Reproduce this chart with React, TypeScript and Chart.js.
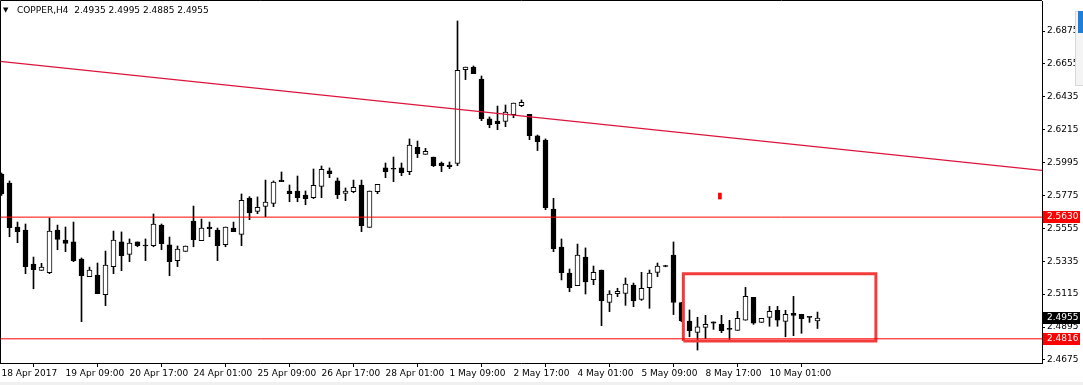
import React, { useEffect, useRef } from 'react';
import { Chart, registerables } from 'chart.js';

Chart.register(...registerables);

const symbolName = 'COPPER,H4';

const openP = [
  2.5918, 2.5858, 2.5564, 2.5544, 2.5316, 2.5274, 2.5258, 2.5544, 2.5477, 2.5464,
  2.5350, 2.5232, 2.5243, 2.5111, 2.5299, 2.5464, 2.5381, 2.5464, 2.5437, 2.5439,
  2.5577, 2.5444, 2.5339, 2.5401, 2.5604, 2.5473, 2.5564, 2.5544, 2.5446, 2.5557,
  2.5515, 2.5758, 2.5669, 2.5702, 2.5722, 2.5878, 2.5805, 2.5805, 2.5778, 2.5760,
  2.5836, 2.5939, 2.5872, 2.5789, 2.5800, 2.5845, 2.5562, 2.5800, 2.5959, 2.5951,
  2.5959, 2.5934, 2.6097, 2.6050, 2.6032, 2.5992, 2.5979, 2.5990, 2.6616, 2.6634,
  2.6554, 2.6287, 2.6273, 2.6271, 2.6315, 2.6376, 2.6318, 2.6173, 2.6146, 2.5684,
  2.5430, 2.5256, 2.5172, 2.5363, 2.5212, 2.5276, 2.5060, 2.5118, 2.5120, 2.5176,
  2.5080, 2.5158, 2.5261, 2.5303, 2.5377, 2.5058, 2.4935, 2.4859, 2.4893, 2.4929,
  2.4913, 2.4879, 2.4873, 2.4940, 2.5093, 2.4926, 2.4960, 2.5007, 2.4933, 2.4987,
  2.4980, 2.4962, 2.4935,
];

const highP = [
  2.5925, 2.5872, 2.5597, 2.5584, 2.5363, 2.5321, 2.5624, 2.5577, 2.5564, 2.5597,
  2.5357, 2.5296, 2.5323, 2.5403, 2.5537, 2.5531, 2.5484, 2.5464, 2.5484, 2.5651,
  2.5584, 2.5497, 2.5437, 2.5437, 2.5704, 2.5617, 2.5597, 2.5557, 2.5564, 2.5597,
  2.5785, 2.5767, 2.5765, 2.5878, 2.5872, 2.5932, 2.5845, 2.5905, 2.5805, 2.5952,
  2.5972, 2.5959, 2.5892, 2.5825, 2.5878, 2.5878, 2.5805, 2.5849, 2.5992, 2.6032,
  2.5992, 2.6153, 2.6139, 2.6090, 2.6032, 2.5999, 2.5999, 2.6942, 2.6634, 2.6641,
  2.6574, 2.6300, 2.6373, 2.6380, 2.6393, 2.6414, 2.6318, 2.6179, 2.6153, 2.5756,
  2.5484, 2.5283, 2.5450, 2.5424, 2.5303, 2.5276, 2.5138, 2.5154, 2.5223, 2.5189,
  2.5261, 2.5276, 2.5323, 2.5308, 2.5464, 2.5060, 2.5009, 2.4960, 2.4973, 2.4929,
  2.4973, 2.4940, 2.5000, 2.5160, 2.5093, 2.4953, 2.5033, 2.5033, 2.5007, 2.5100,
  2.4980, 2.4962, 2.4995,
];

const lowP = [
  2.5775, 2.5499, 2.5459, 2.5252, 2.5151, 2.5274, 2.5252, 2.5412, 2.5399, 2.5332,
  2.4931, 2.5232, 2.5118, 2.5038, 2.5252, 2.5272, 2.5332, 2.5432, 2.5339, 2.5432,
  2.5412, 2.5238, 2.5299, 2.5401, 2.5432, 2.5473, 2.5499, 2.5339, 2.5432, 2.5533,
  2.5439, 2.5613, 2.5653, 2.5633, 2.5700, 2.5867, 2.5733, 2.5733, 2.5713, 2.5754,
  2.5760, 2.5894, 2.5754, 2.5740, 2.5793, 2.5533, 2.5562, 2.5787, 2.5894, 2.5867,
  2.5907, 2.5914, 2.6028, 2.6050, 2.5968, 2.5934, 2.5954, 2.5974, 2.6550, 2.6590,
  2.6275, 2.6228, 2.6215, 2.6235, 2.6295, 2.6369, 2.6148, 2.6075, 2.5680, 2.5399,
  2.5210, 2.5131, 2.5172, 2.5116, 2.5178, 2.4904, 2.4998, 2.5098, 2.5040, 2.5031,
  2.5073, 2.5020, 2.5232, 2.5298, 2.4978, 2.4931, 2.4830, 2.4741, 2.4817, 2.4879,
  2.4857, 2.4804, 2.4873, 2.4940, 2.4913, 2.4926, 2.4900, 2.4900, 2.4830, 2.4837,
  2.4853, 2.4926, 2.4885,
];

const closeP = [
  2.5785, 2.5559, 2.5533, 2.5299, 2.5279, 2.5296, 2.5537, 2.5481, 2.5455, 2.5339,
  2.5238, 2.5276, 2.5118, 2.5310, 2.5477, 2.5372, 2.5457, 2.5439, 2.5437, 2.5584,
  2.5452, 2.5332, 2.5417, 2.5437, 2.5479, 2.5557, 2.5553, 2.5439, 2.5564, 2.5533,
  2.5742, 2.5660, 2.5696, 2.5731, 2.5865, 2.5867, 2.5787, 2.5760, 2.5754, 2.5843,
  2.5950, 2.5921, 2.5780, 2.5805, 2.5829, 2.5573, 2.5805, 2.5849, 2.5934, 2.5950,
  2.5927, 2.6112, 2.6055, 2.6070, 2.5974, 2.5974, 2.5968, 2.6612, 2.6634, 2.6590,
  2.6289, 2.6249, 2.6255, 2.6333, 2.6393, 2.6398, 2.6175, 2.6135, 2.5693, 2.5419,
  2.5259, 2.5158, 2.5377, 2.5196, 2.5261, 2.5071, 2.5116, 2.5134, 2.5183, 2.5071,
  2.5154, 2.5256, 2.5303, 2.5300, 2.5059, 2.4937, 2.4871, 2.4897, 2.4913, 2.4920,
  2.4871, 2.4879, 2.4953, 2.5100, 2.4920, 2.4953, 2.5000, 2.4940, 2.4980, 2.4973,
  2.4951, 2.4960, 2.4955,
];

const xTickIndex = [0, 8, 16, 24, 32, 40, 48, 56, 64, 72, 80, 88, 96];
const xTickLabels = [
  '18 Apr 2017', '19 Apr 09:00', '20 Apr 17:00', '24 Apr 01:00', '25 Apr 09:00',
  '26 Apr 17:00', '28 Apr 01:00', '1 May 09:00', '2 May 17:00', '4 May 01:00',
  '5 May 09:00', '8 May 17:00', '10 May 01:00',
];
const yTickValues = [2.6875, 2.6655, 2.6435, 2.6215, 2.5995, 2.5775, 2.5555, 2.5335, 2.5115, 2.4895, 2.4675];

const xRange = [-0.1875, 130.0625];
const yRange = [2.46543, 2.70757];

const hLineLevels = [2.563, 2.4816];
const trendX = [-0.1875, 130.0625];
const trendY = [2.6672, 2.5943];
const boxX = [85.23, 109.3];
const boxY = [2.4801, 2.5251];
const markerX = [89.8];
const markerY = [2.5751, 2.5791];

const FONT = "'DejaVu Sans', 'Liberation Sans', sans-serif";

export default function App() {
  const canvasRef = useRef<HTMLCanvasElement | null>(null);

  useEffect(() => {
    const canvas = canvasRef.current;
    if (!canvas) return;
    const n = openP.length;
    const wickData = openP.map((_, i) => ({ x: i, y: [lowP[i], highP[i]] }));
    const bodyData = openP.map((o, i) => ({ x: i, y: [Math.min(o, closeP[i]), Math.max(o, closeP[i])] }));
    const bodyColors = openP.map((o, i) => (closeP[i] > o ? '#ffffff' : '#000000'));

    const lastClose = closeP[n - 1];
    const priceTags = [
      { v: hLineLevels[0], bg: '#ff0000' },
      { v: lastClose, bg: '#000000' },
      { v: hLineLevels[1], bg: '#ff0000' },
    ];

    const decor = {
      id: 'decor',
      beforeDraw(chart: any) {
        const ctx = chart.ctx;
        ctx.save();
        ctx.fillStyle = '#ffffff';
        ctx.fillRect(0, 0, chart.width, chart.height);
        ctx.fillStyle = '#f0f0f0';
        ctx.fillRect(0, 382, chart.width, 3);
        ctx.restore();
      },
      afterDraw(chart: any) {
        const { ctx, chartArea, scales } = chart;
        const ys = scales.y;
        ctx.save();
        ctx.strokeStyle = '#000';
        ctx.lineWidth = 1;
        ctx.beginPath();
        ctx.moveTo(0.5, chartArea.bottom);
        ctx.lineTo(0.5, 0.5);
        ctx.lineTo(chartArea.right, 0.5);
        ctx.stroke();

        ctx.font = `9px ${FONT}`;
        ctx.textBaseline = 'middle';
        ctx.textAlign = 'left';
        priceTags.forEach((t) => {
          const py = Math.round(ys.getPixelForValue(t.v));
          ctx.fillStyle = t.bg;
          ctx.fillRect(chartArea.right + 1, py - 6, 37, 12);
          ctx.fillStyle = '#ffffff';
          ctx.fillText(t.v.toFixed(4), chartArea.right + 5, py);
        });

        // header
        ctx.fillStyle = '#000';
        ctx.font = `7px ${FONT}`;
        ctx.fillText('▼', 3, 10);
        ctx.font = `9px ${FONT}`;
        const header = `${symbolName}  ${openP[n - 1].toFixed(4)} ${highP[n - 1].toFixed(4)} ${lowP[n - 1].toFixed(4)} ${closeP[n - 1].toFixed(4)}`;
        ctx.fillText(header, 17, 11);

        // window widget at top right
        ctx.fillStyle = '#f4f4f4';
        ctx.fillRect(1075, 11, 8, 75);
        ctx.strokeStyle = '#d8d8d8';
        ctx.strokeRect(1075.5, 11.5, 8, 74);
        ctx.fillStyle = '#1f7fd6';
        ctx.fillRect(1078, 11, 5, 22);
        ctx.restore();
      },
    };

    const chart = new Chart(canvas, {
      type: 'bar',
      data: {
        datasets: [
          {
            type: 'line',
            label: 'levels1',
            data: [{ x: xRange[0], y: hLineLevels[0] }, { x: xRange[1], y: hLineLevels[0] }],
            borderColor: '#ff0000',
            borderWidth: 1,
            pointRadius: 0,
            order: 0,
          } as any,
          {
            type: 'line',
            label: 'levels2',
            data: [{ x: xRange[0], y: hLineLevels[1] }, { x: xRange[1], y: hLineLevels[1] }],
            borderColor: '#ff0000',
            borderWidth: 1,
            pointRadius: 0,
            order: 0,
          } as any,
          {
            type: 'line',
            label: 'trend',
            data: [{ x: trendX[0], y: trendY[0] }, { x: trendX[1], y: trendY[1] }],
            borderColor: '#dc143c',
            borderWidth: 1.2,
            pointRadius: 0,
            order: 0,
          } as any,
          {
            type: 'line',
            label: 'box',
            data: [
              { x: boxX[0], y: boxY[0] },
              { x: boxX[0], y: boxY[1] },
              { x: boxX[1], y: boxY[1] },
              { x: boxX[1], y: boxY[0] },
              { x: boxX[0], y: boxY[0] },
            ],
            borderColor: '#f23c3c',
            borderWidth: 3,
            borderJoinStyle: 'miter',
            pointRadius: 0,
            fill: false,
            order: 0,
          } as any,
          {
            type: 'bar',
            label: 'marker',
            data: [{ x: markerX[0], y: markerY }],
            backgroundColor: '#ff0000',
            barThickness: 3,
            grouped: false,
            order: 1,
          } as any,
          {
            type: 'bar',
            label: 'body',
            data: bodyData,
            backgroundColor: bodyColors,
            borderColor: '#000000',
            borderWidth: 1,
            borderSkipped: false,
            barThickness: 5,
            minBarLength: 1,
            grouped: false,
            order: 2,
          } as any,
          {
            type: 'bar',
            label: 'wick',
            data: wickData,
            backgroundColor: '#000000',
            borderWidth: 0,
            barThickness: 1,
            grouped: false,
            order: 3,
          } as any,
        ],
      },
      options: {
        responsive: false,
        maintainAspectRatio: false,
        animation: false,
        devicePixelRatio: 1,
        layout: { padding: { top: 1, left: 0, right: 0, bottom: 0 } },
        plugins: { legend: { display: false }, tooltip: { enabled: false } },
        scales: {
          x: {
            type: 'linear',
            min: xRange[0],
            max: xRange[1],
            offset: false,
            afterBuildTicks: (s: any) => {
              s.ticks = xTickIndex.map((v) => ({ value: v }));
            },
            afterFit: (s: any) => {
              s.height = 22;
              s.paddingLeft = 0;
              s.paddingRight = 0;
            },
            ticks: {
              autoSkip: false,
              maxRotation: 0,
              minRotation: 0,
              align: 'start',
              padding: 1,
              color: '#000',
              font: { family: FONT, size: 9 },
              callback: (v: any) => {
                const i = xTickIndex.indexOf(Number(v));
                return i >= 0 ? xTickLabels[i] : '';
              },
            },
            grid: { drawOnChartArea: false, drawTicks: true, tickLength: 4, color: '#000' },
            border: { display: true, color: '#000', width: 1 },
          },
          y: {
            type: 'linear',
            position: 'right',
            min: yRange[0],
            max: yRange[1],
            afterBuildTicks: (s: any) => {
              s.ticks = yTickValues.map((v) => ({ value: v }));
            },
            afterFit: (s: any) => {
              s.width = 41;
              s.paddingTop = 0;
              s.paddingBottom = 0;
            },
            ticks: {
              padding: 2,
              color: '#000',
              font: { family: FONT, size: 9 },
              callback: (v: any) => Number(v).toFixed(4),
            },
            grid: { drawOnChartArea: false, drawTicks: true, tickLength: 3, color: '#000' },
            border: { display: true, color: '#000', width: 1 },
          },
        },
      } as any,
      plugins: [decor],
    });

    return () => {
      chart.destroy();
    };
  }, []);

  return (
    <div style={{ position: 'absolute', left: 0, top: 0, width: 1083, height: 385, background: '#fff' }}>
      <canvas ref={canvasRef} width={1083} height={385} style={{ display: 'block', width: 1083, height: 385 }} />
    </div>
  );
}
